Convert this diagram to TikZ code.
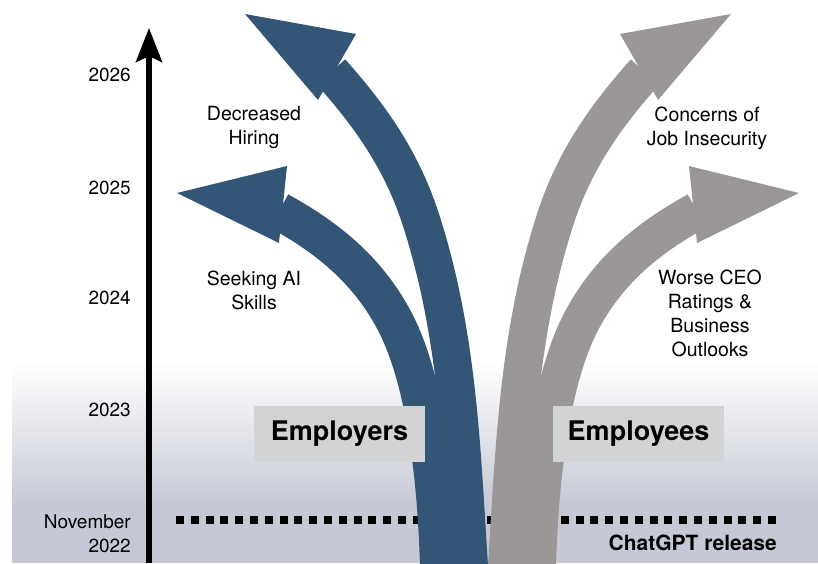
\documentclass[tikz,border=0pt]{standalone}
\usepackage{fontspec}
\setmainfont{TeX Gyre Heros}
\usepackage{tikz}
\usetikzlibrary{arrows.meta}

\definecolor{emplblue}{HTML}{345676}
\definecolor{emplgray}{HTML}{9B9796}
\definecolor{tagfill}{HTML}{D2D3D5}
\definecolor{floorshade}{HTML}{C6C9D5}

\tikzset{
	year/.style={anchor=east, align=right, inner sep=0pt, font=\fontsize{19}{24}\selectfont},
	outcome/.style={align=center, inner sep=0pt, font=\fontsize{19.5}{24}\selectfont},
	group/.style={fill=tagfill, inner sep=0pt, minimum width=171pt, minimum height=56pt,
		font=\bfseries\fontsize{27}{30}\selectfont},
	stem/.style={line width=38pt},
}

\begin{document}
\begin{tikzpicture}[x=1pt,y=-1pt]
		\useasboundingbox (0,0) rectangle (818,563);

		% floor behind the lower part
		\shade[top color=white, bottom color=floorshade] (12,362) rectangle (818,505);
		\fill[floorshade] (12,504.5) rectangle (818,563);

		% time axis
		\draw[line width=6pt, -{Stealth[length=34pt,width=26pt,inset=6pt]}] (149,563) -- (149,28);
		\node[year] (y26) at (131,75)  {2026};
		\node[year] (y25) at (131,188) {2025};
		\node[year] (y24) at (131,298) {2024};
		\node[year] (y23) at (131,410) {2023};
		\node[year] (y22) at (131,534) {November\\2022};

		% release line, under the arrows
		\draw[line width=8pt, dash pattern=on 8pt off 6.8pt] (176,520) -- (778,520);
		\node[anchor=east, inner sep=0pt, font=\bfseries\fontsize{21}{24}\selectfont] (rel) at (777,543) {ChatGPT release};

		% employers (left)
		\draw[stem, emplblue] (469,566) .. controls (461.4,448) and (458,335) .. (421,220)
			.. controls (402.6,162.9) and (373,119) .. (331,72);
		\fill[emplblue] (245,14) -- (356,34) -- (318,100) -- cycle;
		\draw[stem, emplblue] (439,566) .. controls (436.5,481) and (426,380) .. (394,320)
			.. controls (368.1,271.6) and (329.9,238.9) .. (279,211);
		\fill[emplblue] (177,193) -- (287,166) -- (279,243) -- cycle;

		% employees (right), same shape mirrored
		\begin{scope}[shift={(976,0)}, xscale=-1]
			\draw[stem, emplgray] (469,566) .. controls (461.4,448) and (458,335) .. (421,220)
				.. controls (402.6,162.9) and (373,119) .. (331,72);
			\fill[emplgray] (245,14) -- (356,34) -- (318,100) -- cycle;
			\draw[stem, emplgray] (439,566) .. controls (436.5,481) and (426,380) .. (394,320)
				.. controls (368.1,271.6) and (329.9,238.9) .. (279,211);
			\fill[emplgray] (177,193) -- (287,166) -- (279,243) -- cycle;
		\end{scope}

		\node[outcome] (hiring) at (254,128) {Decreased\\Hiring};
		\node[outcome] (skills) at (254,290) {Seeking AI\\Skills};
		\node[outcome] (insecure) at (707,128) {Concerns of\\Job Insecurity};
		\node[outcome] (ratings) at (710,313) {Worse CEO\\Ratings \&\\Business\\Outlooks};

		\node[group] (employers) at (339.5,434) {Employers};
		\node[group] (employees) at (638.5,434) {Employees};
	\end{tikzpicture}
\end{document}
